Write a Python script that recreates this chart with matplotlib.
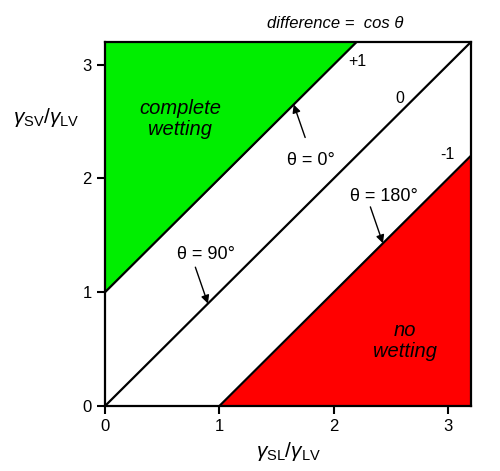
import numpy as np
import matplotlib
matplotlib.use("Agg")
import matplotlib.pyplot as plt

plt.rcParams['font.family'] = ['Liberation Sans', 'DejaVu Sans']
plt.rcParams['mathtext.fontset'] = 'custom'
plt.rcParams['mathtext.rm'] = 'Liberation Sans'
plt.rcParams['mathtext.it'] = 'Liberation Sans:italic'

# cos(theta) values of the three boundary lines: y = x + c
cos_vals = [1, 0, -1]
cos_labels = ['+1', '0', '-1']
label_pos = [(2.21, 3.03), (2.58, 2.70), (2.99, 2.21)]
xlim = [0, 3.2]
ticks = [0, 1, 2, 3]

# angle annotations: text, text position, arrow tip
angle_txt = ['θ = 0°', 'θ = 90°', 'θ = 180°']
angle_pos = [(1.80, 2.16), (0.88, 1.33), (2.44, 1.84)]
angle_tip = [(1.65, 2.65), (0.90, 0.90), (2.43, 1.43)]
angle_tail = [(1.75, 2.36), (0.79, 1.22), (2.32, 1.75)]

fig = plt.figure(figsize=(5.0, 4.71), dpi=100)
ax = fig.add_axes([0.21, 0.138, 0.732, 0.773])

x = np.linspace(xlim[0], xlim[1], 200)
ax.fill_between(x, x + cos_vals[0], 3.2, where=(x + cos_vals[0] <= 3.2),
                color='#00ee00', lw=0, interpolate=True)
ax.fill_between(x, 0, x + cos_vals[2], where=(x + cos_vals[2] >= 0),
                color='#ff0000', lw=0, interpolate=True)
for c in cos_vals:
    ax.plot(x, x + c, color='black', lw=1.6)

for lab, (tx, ty) in zip(cos_labels, label_pos):
    ax.text(tx, ty, lab, fontsize=11.5, ha='center', va='center')

for t, p, tip, tail in zip(angle_txt, angle_pos, angle_tip, angle_tail):
    ax.text(p[0], p[1], t, fontsize=13, ha='center', va='center')
    ax.annotate('', xy=tip, xytext=tail,
                arrowprops=dict(arrowstyle='-|>', color='black', lw=1.0,
                                mutation_scale=12, shrinkA=0, shrinkB=0))

ax.text(0.66, 2.52, 'complete\nwetting', fontsize=14.5, style='italic',
        ha='center', va='center', linespacing=1.15)
ax.text(2.62, 0.57, 'no\nwetting', fontsize=14.5, style='italic',
        ha='center', va='center', linespacing=1.15)
ax.text(2.01, 3.36, 'difference =  cos θ', fontsize=12, style='italic',
        ha='center', va='center', clip_on=False)

ax.set_xlim(xlim)
ax.set_ylim(xlim)
ax.set_xticks(ticks)
ax.set_yticks(ticks)
ax.tick_params(direction='out', length=6, width=1.5, labelsize=12)
for s in ax.spines.values():
    s.set_linewidth(1.6)

ax.set_xlabel(r'$\gamma_{\rm SL}/\gamma_{\rm LV}$', fontsize=15, labelpad=4)
ax.set_ylabel(r'$\gamma_{\rm SV}/\gamma_{\rm LV}$', fontsize=15, rotation=0,
              labelpad=0)
ax.yaxis.set_label_coords(-0.16, 0.76)

fig.savefig('out.png', dpi=100)
